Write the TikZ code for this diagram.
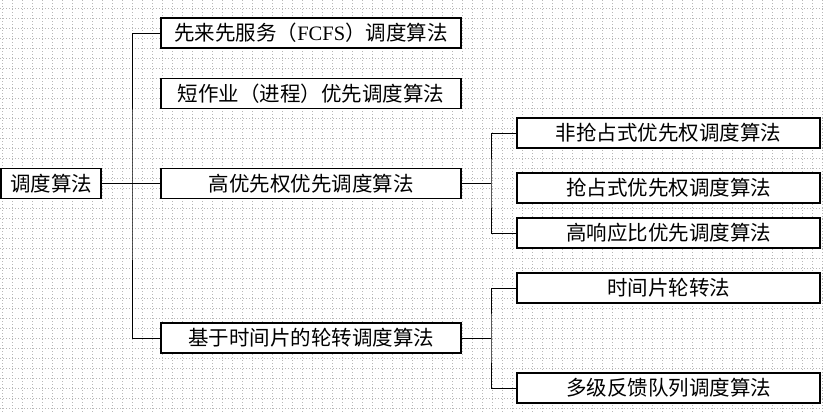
\documentclass[tikz,border=0pt]{standalone}
\usepackage{fontspec}
\setmainfont{Liberation Serif}
\newfontfamily\cjk{Noto Sans CJK SC}
\usetikzlibrary{positioning}

\begin{document}
\begin{tikzpicture}[
  x=1bp, y=-1bp,
  gridline/.style={draw=black!28, line width=0.6bp, dash pattern=on 1.2bp off 1.8bp},
  box/.style={draw, fill=white, line width=1.3bp, inner sep=0pt, minimum height=30bp, minimum width=300bp, font=\cjk\fontsize{20.5bp}{24bp}\selectfont},
  subbox/.style={box, minimum width=303bp},
  conn/.style={line width=1bp}
]
\useasboundingbox (0,0) rectangle (824,414);
\foreach \gx in {2,12,...,822} \draw[gridline] (\gx,0) -- (\gx,414);
\foreach \gy in {8,18,...,408} \draw[gridline] (0,\gy) -- (824,\gy);

\node[box, minimum width=100bp] (root) at (51,183.5) {调度算法};
\node[box] (fcfs) at (311,33) {先来先服务（{\rmfamily FCFS}）调度算法};
\node[box] (sjf) at (311,93.5) {短作业（进程）优先调度算法};
\node[box] (prio) at (311,183.5) {高优先权优先调度算法};
\node[box] (rr) at (311,338) {基于时间片的轮转调度算法};

\node[subbox] (nonpre) at (668.5,133) {非抢占式优先权调度算法};
\node[subbox] (pre) at (668.5,188) {抢占式优先权调度算法};
\node[subbox] (hrrn) at (668.5,233) {高响应比优先调度算法};
\node[subbox] (slice) at (668.5,288) {时间片轮转法};
\node[subbox] (mlfq) at (668.5,388) {多级反馈队列调度算法};

\coordinate (trunk) at (132,183.5);
\coordinate (forkprio) at (491,183.5);
\coordinate (forkrr) at (491,338);

\draw[conn] (root.east) -- (prio.west);
\draw[conn] (fcfs.west) -| (trunk) |- (rr.west);
\draw[conn] (prio.east) -- (forkprio);
\draw[conn] (nonpre.west) -| (forkprio) |- (hrrn.west);
\draw[conn] (rr.east) -- (forkrr);
\draw[conn] (slice.west) -| (forkrr) |- (mlfq.west);
\end{tikzpicture}
\end{document}
